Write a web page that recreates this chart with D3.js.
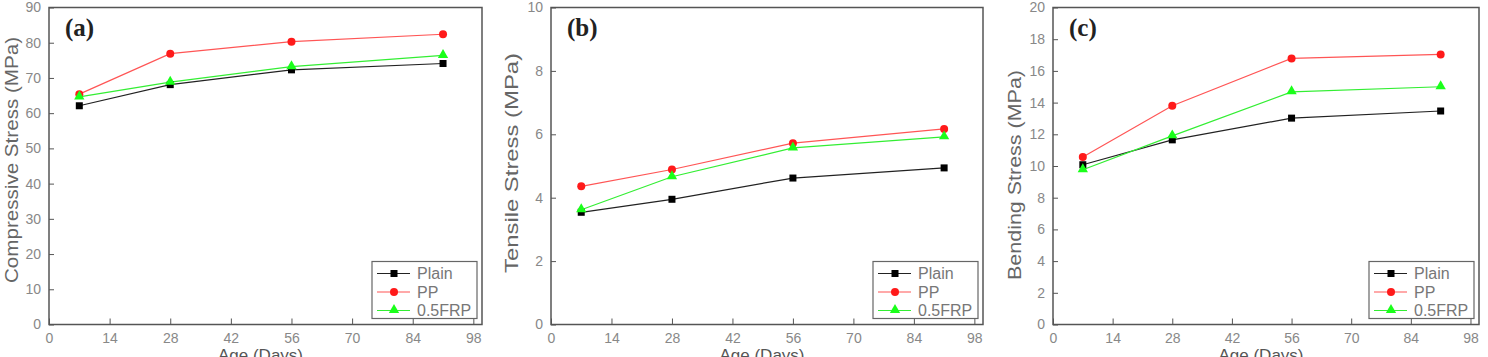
<!DOCTYPE html>
<html>
<head>
<meta charset="utf-8">
<script src="https://cdn.jsdelivr.net/npm/d3@7"></script>
<style>
body { margin: 0; background: #fff; }
svg { display: block; font-family: Arial, "Liberation Sans", sans-serif; }
</style>
</head>
<body>
<div id="chart"></div>
<script>
var W = 1488, H = 357

// data
var ages = [7, 28, 56, 91]
var seriesNames = ["Plain", "PP", "0.5FRP"]
var xTicks = [0, 14, 28, 42, 56, 70, 84, 98]

var compPlain = [62.1, 68.1, 72.3, 74.1]
var compPP = [65.4, 76.9, 80.3, 82.4]
var compFRP = [64.6, 68.8, 73.2, 76.4]

var tensPlain = [3.54, 3.95, 4.62, 4.94]
var tensPP = [4.36, 4.89, 5.72, 6.17]
var tensFRP = [3.62, 4.66, 5.57, 5.92]

var bendPlain = [10.08, 11.65, 13.02, 13.47]
var bendPP = [10.57, 13.8, 16.79, 17.04]
var bendFRP = [9.76, 11.9, 14.68, 15.0]

var colors = {Plain: "#000", PP: "#ff1a1a", "0.5FRP": "#1aff1a"}
var lineColors = {Plain: "#222", PP: "#ff5555", "0.5FRP": "#33ee33"}

var panels = [
  {label: "(a)", title: "Compressive Stress (MPa)", yMax: 90, yStep: 10, left: 49, right: 482,
   titleX: 12, titleY: 160, titleLen: 246, values: [compPlain, compPP, compFRP]},
  {label: "(b)", title: "Tensile Stress (MPa)", yMax: 10, yStep: 2, left: 551, right: 983,
   titleX: 512, titleY: 163, titleLen: 220, values: [tensPlain, tensPP, tensFRP]},
  {label: "(c)", title: "Bending Stress (MPa)", yMax: 20, yStep: 2, left: 1053, right: 1479,
   titleX: 1015, titleY: 175, titleLen: 210, values: [bendPlain, bendPP, bendFRP]}
]
var plotTop = 7.5, plotBottom = 324.5

var svg = d3.select("#chart").append("svg")
  .attr("width", W)
  .attr("height", H)

function drawMarker(g, name, x, y) {
  if (name == "Plain") {
    g.append("rect").attr("x", x - 3.5).attr("y", y - 3.5).attr("width", 7).attr("height", 7)
      .attr("fill", colors[name])
  } else if (name == "PP") {
    g.append("circle").attr("cx", x).attr("cy", y).attr("r", 4).attr("fill", colors[name])
  } else {
    g.append("path").attr("d", d3.symbol().type(d3.symbolTriangle).size(46)())
      .attr("transform", "translate(" + x + "," + (y - 0.5) + ")")
      .attr("fill", colors[name])
  }
}

panels.forEach(function(p) {
  var x = d3.scaleLinear().domain([0, 100]).range([p.left, p.right])
  var y = d3.scaleLinear().domain([0, p.yMax]).range([plotBottom, plotTop])
  var g = svg.append("g")

  // frame
  g.append("rect")
    .attr("x", p.left).attr("y", plotTop)
    .attr("width", p.right - p.left).attr("height", plotBottom - plotTop)
    .attr("fill", "none").attr("stroke", "#555").attr("stroke-width", 1.5)

  var xAxis = g.append("g").attr("transform", "translate(0," + plotBottom + ")")
    .call(d3.axisBottom(x).tickValues(xTicks).tickSize(-6).tickPadding(9))
  var yAxis = g.append("g").attr("transform", "translate(" + p.left + ",0)")
    .call(d3.axisLeft(y).tickValues(d3.range(0, p.yMax + 0.01, p.yStep)).tickSize(-5).tickPadding(8))
  ;[xAxis, yAxis].forEach(function(a) {
    a.select(".domain").remove()
    a.selectAll(".tick line").attr("stroke", "#555")
    a.selectAll("text").attr("fill", "#888").attr("font-size", 14)
      .attr("font-family", "Arial, 'Liberation Sans', sans-serif")
  })

  // axis titles
  g.append("text")
    .attr("transform", "translate(" + p.titleX + "," + p.titleY + ") rotate(-90)")
    .attr("text-anchor", "middle").attr("dominant-baseline", "central")
    .attr("font-size", 18).attr("fill", "#666")
    .attr("textLength", p.titleLen).attr("lengthAdjust", "spacingAndGlyphs")
    .text(p.title)
  g.append("text")
    .attr("x", (p.left + p.right) / 2 - 5).attr("y", 361)
    .attr("text-anchor", "middle").attr("font-size", 17).attr("fill", "#555")
    .text("Age (Days)")

  // panel label
  g.append("text")
    .attr("x", p.left + 16).attr("y", 36)
    .attr("font-family", "'Liberation Serif', 'Times New Roman', serif")
    .attr("font-weight", "bold").attr("font-size", 25).attr("fill", "#222")
    .text(p.label)

  // series
  var line = d3.line().x(function(d, i) { return x(ages[i]) }).y(function(d) { return y(d) })
  seriesNames.forEach(function(name, k) {
    g.append("path").datum(p.values[k])
      .attr("d", line).attr("fill", "none")
      .attr("stroke", lineColors[name]).attr("stroke-width", 1.2)
  })
  seriesNames.forEach(function(name, k) {
    p.values[k].forEach(function(v, i) {
      drawMarker(g, name, x(ages[i]), y(v))
    })
  })

  // legend
  var lw = 105, lh = 57
  var lx = p.right - 5 - lw, ly = plotBottom - 6 - lh
  var leg = g.append("g")
  leg.append("rect").attr("x", lx).attr("y", ly).attr("width", lw).attr("height", lh)
    .attr("fill", "#fff").attr("stroke", "#666").attr("stroke-width", 1.2)
  seriesNames.forEach(function(name, k) {
    var ry = ly + 12 + k * 18.5
    leg.append("line").attr("x1", lx + 5).attr("x2", lx + 38).attr("y1", ry).attr("y2", ry)
      .attr("stroke", lineColors[name]).attr("stroke-width", 1.2)
    drawMarker(leg, name, lx + 22, ry)
    leg.append("text").attr("x", lx + 45).attr("y", ry).attr("dominant-baseline", "central")
      .attr("font-size", 16).attr("fill", "#777").text(name)
  })
})
</script>
</body>
</html>
